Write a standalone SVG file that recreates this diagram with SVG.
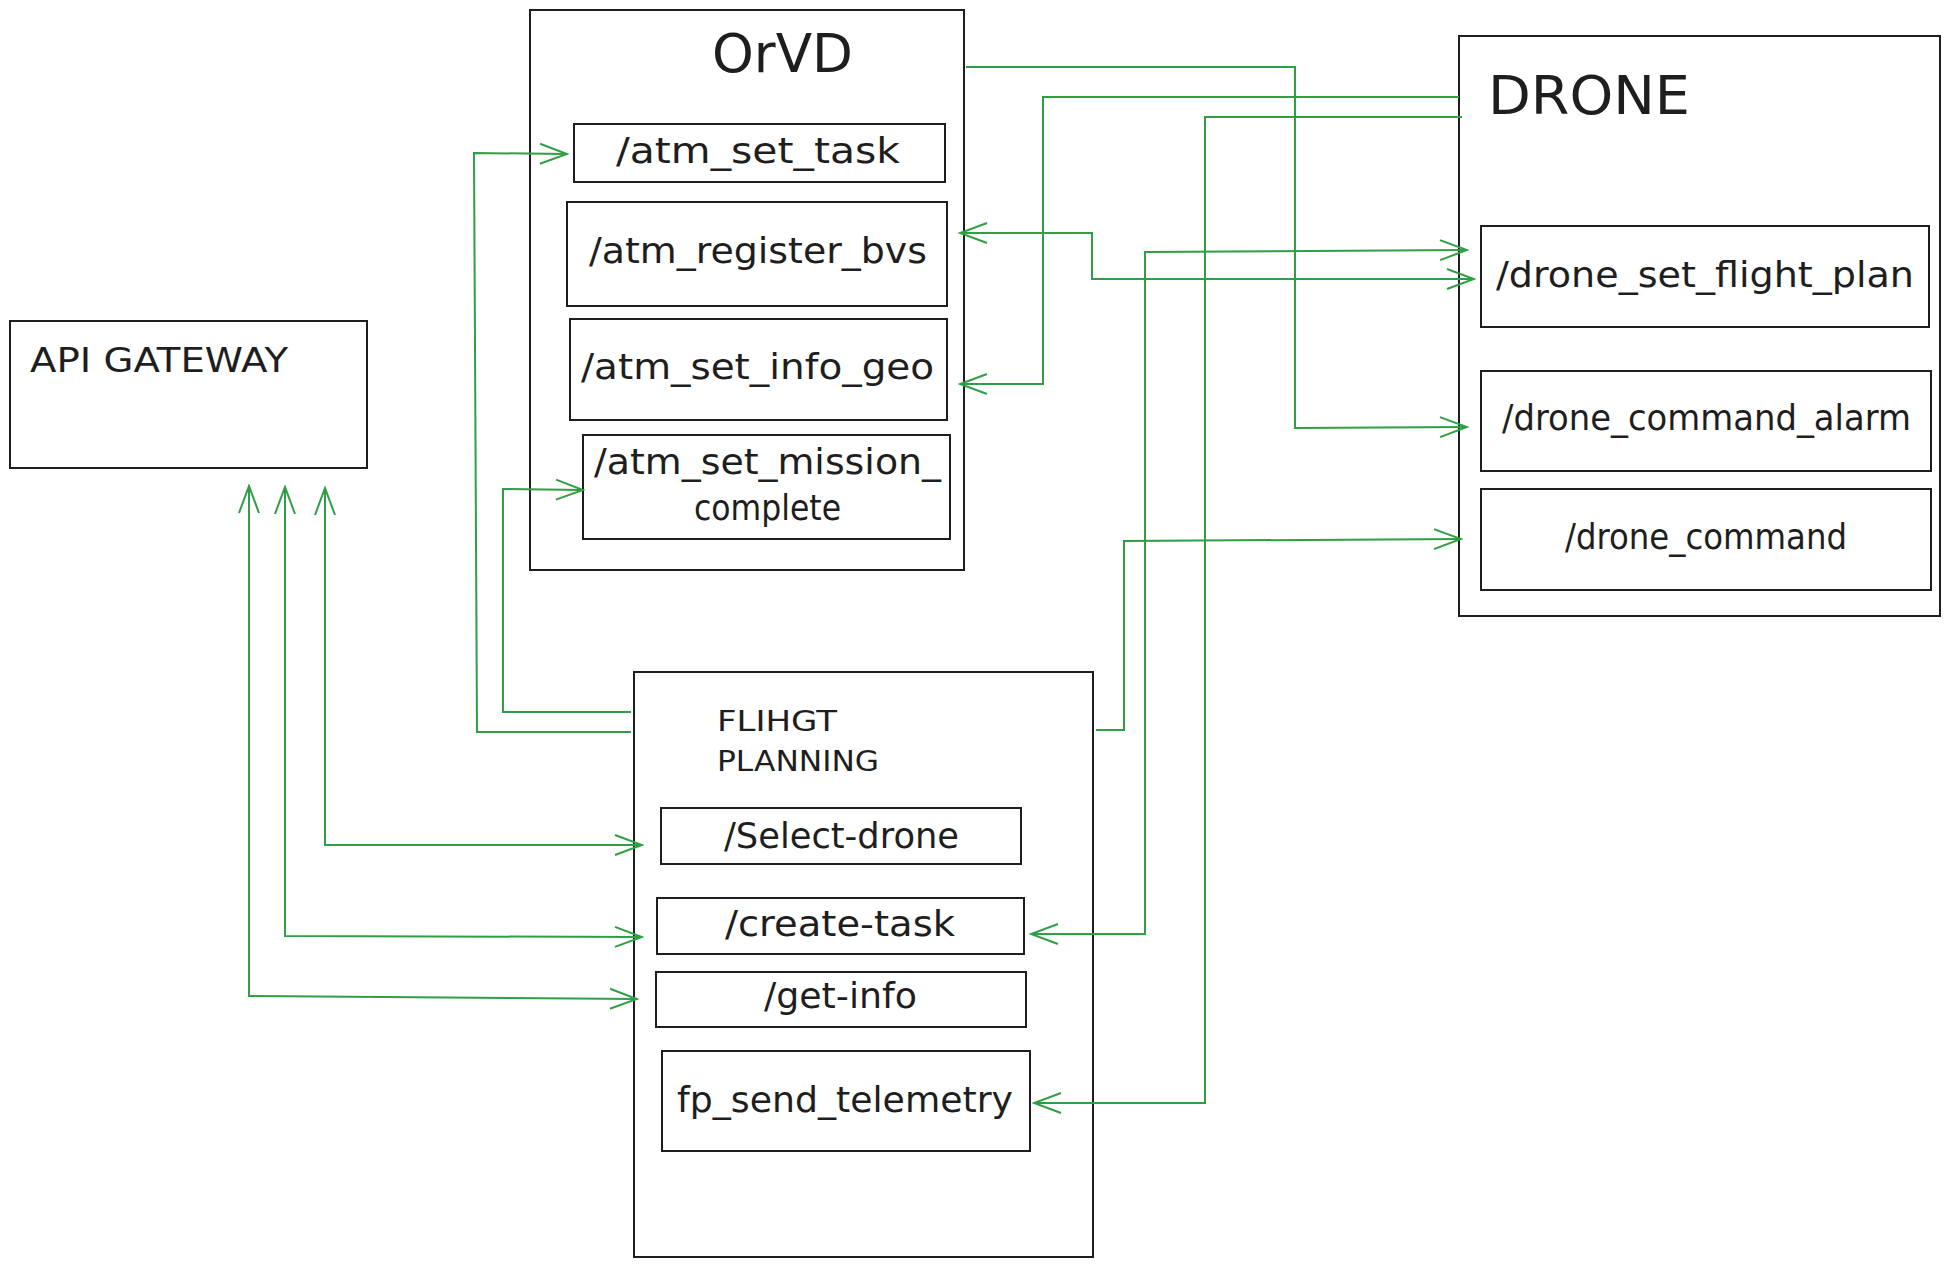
<svg xmlns="http://www.w3.org/2000/svg" width="1950" height="1269" viewBox="0 0 1950 1269">
<style>
.box{fill:none;stroke:#1e1e1e;stroke-width:2}
.t{font-family:"DejaVu Sans","Liberation Sans",sans-serif;fill:#1e1e1e}
.lbl{font-size:36px}
.cap{font-size:34px}
.ttl{font-size:54px}
.wire{fill:none;stroke:#2f9e44;stroke-width:2;marker-end:url(#arr)}
.both{marker-start:url(#arr)}
</style>
<defs>
<marker id="arr" viewBox="0 0 30 24" refX="28" refY="12" markerWidth="30" markerHeight="24" markerUnits="userSpaceOnUse" orient="auto-start-reverse">
<path d="M1,2 L28,12 L1,22" fill="none" stroke="#2f9e44" stroke-width="2"/>
</marker>
</defs>
<rect width="1950" height="1269" fill="#ffffff"/>

<g id="api-gateway">
<rect class="box" x="10" y="321" width="357" height="147"/>
<text class="t cap" x="30" y="372" textLength="258" lengthAdjust="spacingAndGlyphs">API GATEWAY</text>
</g>

<g id="orvd">
<rect class="box" x="530" y="10" width="434" height="560"/>
<text class="t ttl" x="712" y="72" textLength="141" lengthAdjust="spacingAndGlyphs">OrVD</text>
</g>
<g id="atm_set_task">
<rect class="box" x="574" y="124" width="371" height="58"/>
<text class="t lbl" x="616" y="163" textLength="284" lengthAdjust="spacingAndGlyphs">/atm_set_task</text>
</g>
<g id="atm_register_bvs">
<rect class="box" x="567" y="202" width="380" height="104"/>
<text class="t lbl" x="589" y="263" textLength="338" lengthAdjust="spacingAndGlyphs">/atm_register_bvs</text>
</g>
<g id="atm_set_info_geo">
<rect class="box" x="570" y="319" width="377" height="101"/>
<text class="t lbl" x="581" y="379" textLength="353" lengthAdjust="spacingAndGlyphs">/atm_set_info_geo</text>
</g>
<g id="atm_set_mission_complete">
<rect class="box" x="583" y="435" width="367" height="104"/>
<text class="t lbl" x="594" y="474" textLength="347" lengthAdjust="spacingAndGlyphs">/atm_set_mission_</text>
<text class="t lbl" x="694" y="520" textLength="147" lengthAdjust="spacingAndGlyphs">complete</text>
</g>

<g id="drone">
<rect class="box" x="1459" y="36" width="481" height="580"/>
<text class="t ttl" x="1488" y="114" textLength="202" lengthAdjust="spacingAndGlyphs">DRONE</text>
</g>
<g id="drone_set_flight_plan">
<rect class="box" x="1481" y="226" width="448" height="101"/>
<text class="t lbl" x="1496" y="287" textLength="418" lengthAdjust="spacingAndGlyphs">/drone_set_flight_plan</text>
</g>
<g id="drone_command_alarm">
<rect class="box" x="1481" y="371" width="450" height="100"/>
<text class="t lbl" x="1502" y="430" textLength="409" lengthAdjust="spacingAndGlyphs">/drone_command_alarm</text>
</g>
<g id="drone_command">
<rect class="box" x="1481" y="489" width="450" height="101"/>
<text class="t lbl" x="1565" y="549" textLength="282" lengthAdjust="spacingAndGlyphs">/drone_command</text>
</g>

<g id="flight-planning">
<rect class="box" x="634" y="672" width="459" height="585"/>
<text class="t" font-size="28" x="717" y="731" textLength="120" lengthAdjust="spacingAndGlyphs">FLIHGT</text>
<text class="t" font-size="28" x="717" y="771" textLength="162" lengthAdjust="spacingAndGlyphs">PLANNING</text>
</g>
<g id="select-drone">
<rect class="box" x="661" y="808" width="360" height="56"/>
<text class="t lbl" x="724" y="848" textLength="235" lengthAdjust="spacingAndGlyphs">/Select-drone</text>
</g>
<g id="create-task">
<rect class="box" x="657" y="898" width="367" height="56"/>
<text class="t lbl" x="725" y="936" textLength="230" lengthAdjust="spacingAndGlyphs">/create-task</text>
</g>
<g id="get-info">
<rect class="box" x="656" y="972" width="370" height="55"/>
<text class="t lbl" x="764" y="1008" textLength="153" lengthAdjust="spacingAndGlyphs">/get-info</text>
</g>
<g id="fp_send_telemetry">
<rect class="box" x="662" y="1051" width="368" height="100"/>
<text class="t lbl" x="677" y="1112" textLength="336" lengthAdjust="spacingAndGlyphs">fp_send_telemetry</text>
</g>

<g id="connectors">
<path class="wire" d="M966,67 L1295,67 L1295,428 L1467,427"/>
<path class="wire" d="M1459,97 L1043,97 L1043,384 L960,384"/>
<path class="wire" d="M1462,117 L1205,117 L1205,1103 L1034,1103"/>
<path class="wire both" d="M960,233 L1092,233 L1092,279 L1474,279"/>
<path class="wire both" d="M1031,934 L1145,934 L1145,252 L1467,250"/>
<path class="wire" d="M1096,730 L1124,730 L1124,541 L1461,539"/>
<path class="wire" d="M631,712 L503,712 L503,489 L583,490"/>
<path class="wire" d="M631,732 L477,732 L474,153 L567,154"/>
<path class="wire both" d="M325,488 L325,845 L642,845"/>
<path class="wire both" d="M285,487 L285,936 L642,937"/>
<path class="wire both" d="M249,486 L249,996 L637,999"/>
</g>
</svg>
